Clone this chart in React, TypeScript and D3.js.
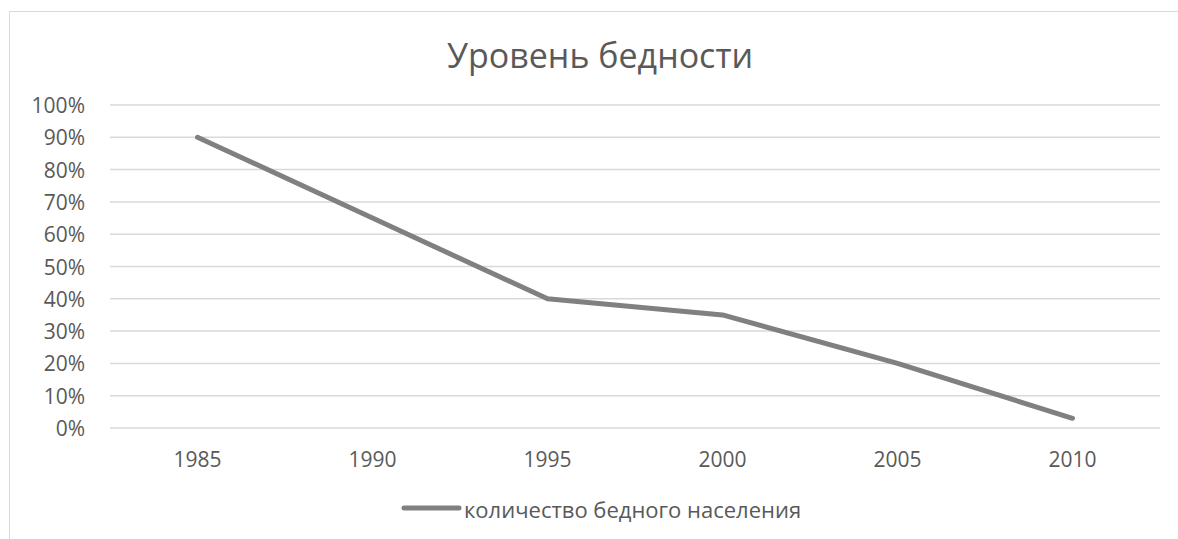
import React from 'react'
import * as d3 from 'd3'

const years = ['1985', '1990', '1995', '2000', '2005', '2010']
const poverty = [0.9, 0.65, 0.4, 0.35, 0.2, 0.03]
const yTicks = [0, 0.1, 0.2, 0.3, 0.4, 0.5, 0.6, 0.7, 0.8, 0.9, 1]
const title = 'Уровень бедности'
const seriesName = 'количество бедного населения'

const width = 1178
const height = 539
const plot = { left: 110, right: 1160, top: 105, bottom: 428 }
const font = '"Open Sans", "Noto Sans", sans-serif'
const textColor = '#595959'

export default function App() {
  const x = d3.scaleBand().domain(years).range([plot.left, plot.right])
  const y = d3.scaleLinear().domain([0, 1]).range([plot.bottom, plot.top])
  const fmt = d3.format('.0%')

  const line = d3.line<number>()
    .x((_, i) => (x(years[i]) ?? 0) + x.bandwidth() / 2)
    .y(d => y(d))

  return (
    <svg width={width} height={height} style={{ position: 'absolute', left: 0, top: 0 }}>
      <rect x={0} y={0} width={width} height={height} fill="#fff" />
      {/* chart area border (top and left visible) */}
      <line x1={9.5} y1={11.5} x2={width} y2={11.5} stroke="#d9d9d9" strokeWidth={1} />
      <line x1={9.5} y1={11.5} x2={9.5} y2={height} stroke="#d9d9d9" strokeWidth={1} />

      <text x={600} y={55} textAnchor="middle" dominantBaseline="central"
        fontFamily={font} fontSize={34} fill={textColor}>{title}</text>

      {yTicks.map(t => (
        <g key={t}>
          <line x1={plot.left} x2={plot.right} y1={y(t)} y2={y(t)} stroke="#d9d9d9" strokeWidth={1.5} />
          <text x={85} y={y(t)} textAnchor="end" dominantBaseline="central"
            fontFamily={font} fontSize={21} fill={textColor}>{fmt(t)}</text>
        </g>
      ))}

      {years.map(yr => (
        <text key={yr} x={(x(yr) ?? 0) + x.bandwidth() / 2} y={459} textAnchor="middle"
          dominantBaseline="central" fontFamily={font} fontSize={21} fill={textColor}>{yr}</text>
      ))}

      <path d={line(poverty) ?? ''} fill="none" stroke="#808080" strokeWidth={5}
        strokeLinecap="round" strokeLinejoin="round" />

      <line x1={404} x2={459} y1={508} y2={508} stroke="#808080" strokeWidth={5} strokeLinecap="round" />
      <text x={464} y={509} dominantBaseline="central" fontFamily={font} fontSize={22}
        fill={textColor}>{seriesName}</text>
    </svg>
  )
}
